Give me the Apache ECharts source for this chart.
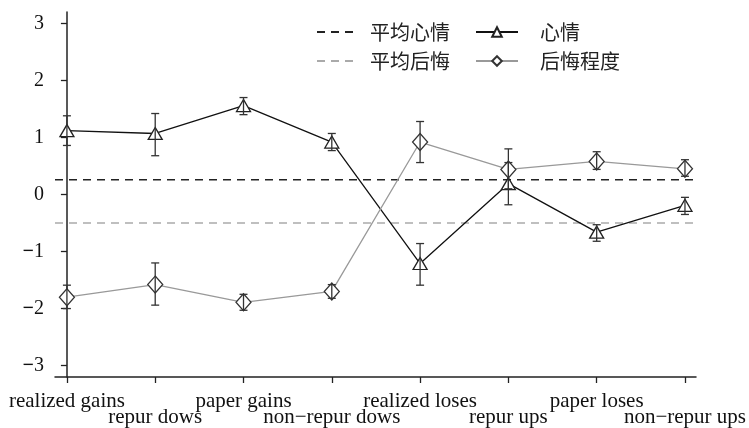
<!DOCTYPE html>
<html>
<head>
<meta charset="utf-8">
<script src="https://cdn.jsdelivr.net/npm/echarts@6/dist/echarts.min.js"></script>
<style>
  html, body { margin: 0; padding: 0; background: #fff; }
  #chart { width: 749px; height: 428px; }
</style>
</head>
<body>
<div id="chart"></div>
<script>
  const categories = ['realized gains', 'repur dows', 'paper gains', 'non\u2212repur dows',
    'realized loses', 'repur ups', 'paper loses', 'non\u2212repur ups'];
  const yTicks = [-3, -2, -1, 0, 1, 2, 3];

  // 心情
  const moodMean = [1.12, 1.07, 1.56, 0.92, -1.21, 0.19, -0.66, -0.19];
  const moodHigh = [1.38, 1.42, 1.70, 1.07, -0.86, 0.56, -0.53, -0.05];
  const moodLow = [0.86, 0.68, 1.40, 0.77, -1.59, -0.18, -0.82, -0.35];

  // 后悔程度
  const regretMean = [-1.80, -1.58, -1.89, -1.70, 0.92, 0.44, 0.58, 0.45];
  const regretHigh = [-1.59, -1.20, -1.75, -1.58, 1.28, 0.80, 0.75, 0.61];
  const regretLow = [-2.00, -1.94, -2.03, -1.82, 0.56, 0.10, 0.44, 0.32];

  const avgMood = 0.26;
  const avgRegret = -0.50;

  const xMin = -0.135;
  const xMax = 7.125;

  const serif = 'Liberation Serif';
  const cjk = 'Noto Sans CJK SC';

  const chart = echarts.init(document.getElementById('chart'));

  function pts(arr) {
    return arr.map((v, i) => [i, v]);
  }
  function errData(low, high) {
    return low.map((v, i) => [i, v, high[i]]);
  }
  function renderErr(params, api) {
    const lo = api.coord([api.value(0), api.value(1)]);
    const hi = api.coord([api.value(0), api.value(2)]);
    const w = 4;
    const style = { stroke: '#333', lineWidth: 1.3 };
    return {
      type: 'group',
      children: [
        { type: 'line', shape: { x1: lo[0], y1: lo[1], x2: hi[0], y2: hi[1] }, style: style },
        { type: 'line', shape: { x1: lo[0] - w, y1: lo[1], x2: lo[0] + w, y2: lo[1] }, style: style },
        { type: 'line', shape: { x1: hi[0] - w, y1: hi[1], x2: hi[0] + w, y2: hi[1] }, style: style }
      ]
    };
  }

  const legendText = { fontFamily: cjk, fontSize: 20, color: '#222' };
  const xLabelStyle = {
    showMinLabel: true,
    showMaxLabel: true,
    hideOverlap: false,
    fontFamily: serif,
    fontSize: 21,
    lineHeight: 16,
    color: '#111',
    formatter: function (v) {
      return categories[Math.round(v)];
    }
  };

  const option = {
    animation: false,
    backgroundColor: '#fff',
    grid: { left: 55, right: 52, top: 12, bottom: 51 },
    legend: [
      { data: ['平均心情'], left: 311, top: 17, itemWidth: 41, itemHeight: 12,
        itemStyle: { opacity: 0 },
        textStyle: Object.assign({ padding: [0, 0, 0, 7] }, legendText) },
      { data: ['心情'], left: 470, top: 17, itemWidth: 42, itemHeight: 12,
        textStyle: Object.assign({ padding: [0, 0, 0, 17] }, legendText) },
      { data: ['平均后悔'], left: 311, top: 46, itemWidth: 41, itemHeight: 12,
        itemStyle: { opacity: 0 },
        textStyle: Object.assign({ padding: [0, 0, 0, 7] }, legendText) },
      { data: ['后悔程度'], left: 470, top: 46, itemWidth: 42, itemHeight: 12,
        textStyle: Object.assign({ padding: [0, 0, 0, 17] }, legendText) }
    ],
    xAxis: [
      {
        type: 'value',
        position: 'bottom',
        min: xMin,
        max: xMax,
        splitLine: { show: false },
        axisLine: { onZero: false, lineStyle: { color: '#222', width: 1.5 } },
        axisTick: { show: true, customValues: [0, 1, 2, 3, 4, 5, 6, 7], length: 6,
          lineStyle: { color: '#222', width: 1.3 } },
        axisLabel: Object.assign({ customValues: [0, 2, 4, 6], margin: 16 }, xLabelStyle)
      },
      {
        type: 'value',
        position: 'bottom',
        offset: 0,
        min: xMin,
        max: xMax,
        splitLine: { show: false },
        axisLine: { show: false, onZero: false },
        axisTick: { show: false },
        axisLabel: Object.assign({ customValues: [1, 3, 5, 7], margin: 32 }, xLabelStyle)
      }
    ],
    yAxis: {
      type: 'value',
      min: -3.2,
      max: 3.2,
      splitLine: { show: false },
      axisLine: { show: true, lineStyle: { color: '#222', width: 1.5 } },
      axisTick: { show: true, customValues: yTicks, length: 6,
        lineStyle: { color: '#222', width: 1.3 } },
      axisLabel: {
        customValues: yTicks,
        showMinLabel: true,
        showMaxLabel: true,
        margin: 11,
        fontFamily: serif,
        fontSize: 20,
        color: '#111',
        formatter: function (v) {
          return v < 0 ? '{m|\u2212}' + Math.abs(v) : String(v);
        },
        rich: {
          m: { fontFamily: serif, fontSize: 20, fontWeight: 'bold', color: '#111' }
        }
      }
    },
    series: [
      {
        name: '平均心情',
        type: 'line',
        data: [[xMin, avgMood], [xMax, avgMood]],
        symbol: 'none',
        lineStyle: { color: '#222', width: 1.5, type: [8, 6] },
        itemStyle: { color: '#222' },
        z: 1
      },
      {
        name: '平均后悔',
        type: 'line',
        data: [[xMin, avgRegret], [xMax, avgRegret]],
        symbol: 'none',
        lineStyle: { color: '#aaa', width: 1.5, type: [8, 6] },
        itemStyle: { color: '#aaa' },
        z: 1
      },
      {
        name: '心情',
        type: 'line',
        data: pts(moodMean),
        symbol: 'triangle',
        symbolSize: [14, 12],
        lineStyle: { color: '#111', width: 1.3 },
        itemStyle: { color: '#fff', borderColor: '#222', borderWidth: 1.3 },
        z: 3
      },
      {
        name: '后悔程度',
        type: 'line',
        data: pts(regretMean),
        symbol: 'diamond',
        symbolSize: [15, 17],
        lineStyle: { color: '#999', width: 1.3 },
        itemStyle: { color: '#fff', borderColor: '#333', borderWidth: 1.3 },
        z: 3
      },
      {
        type: 'custom',
        renderItem: renderErr,
        data: errData(moodLow, moodHigh),
        z: 4
      },
      {
        type: 'custom',
        renderItem: renderErr,
        data: errData(regretLow, regretHigh),
        z: 4
      }
    ]
  };

  chart.setOption(option);
</script>
</body>
</html>
